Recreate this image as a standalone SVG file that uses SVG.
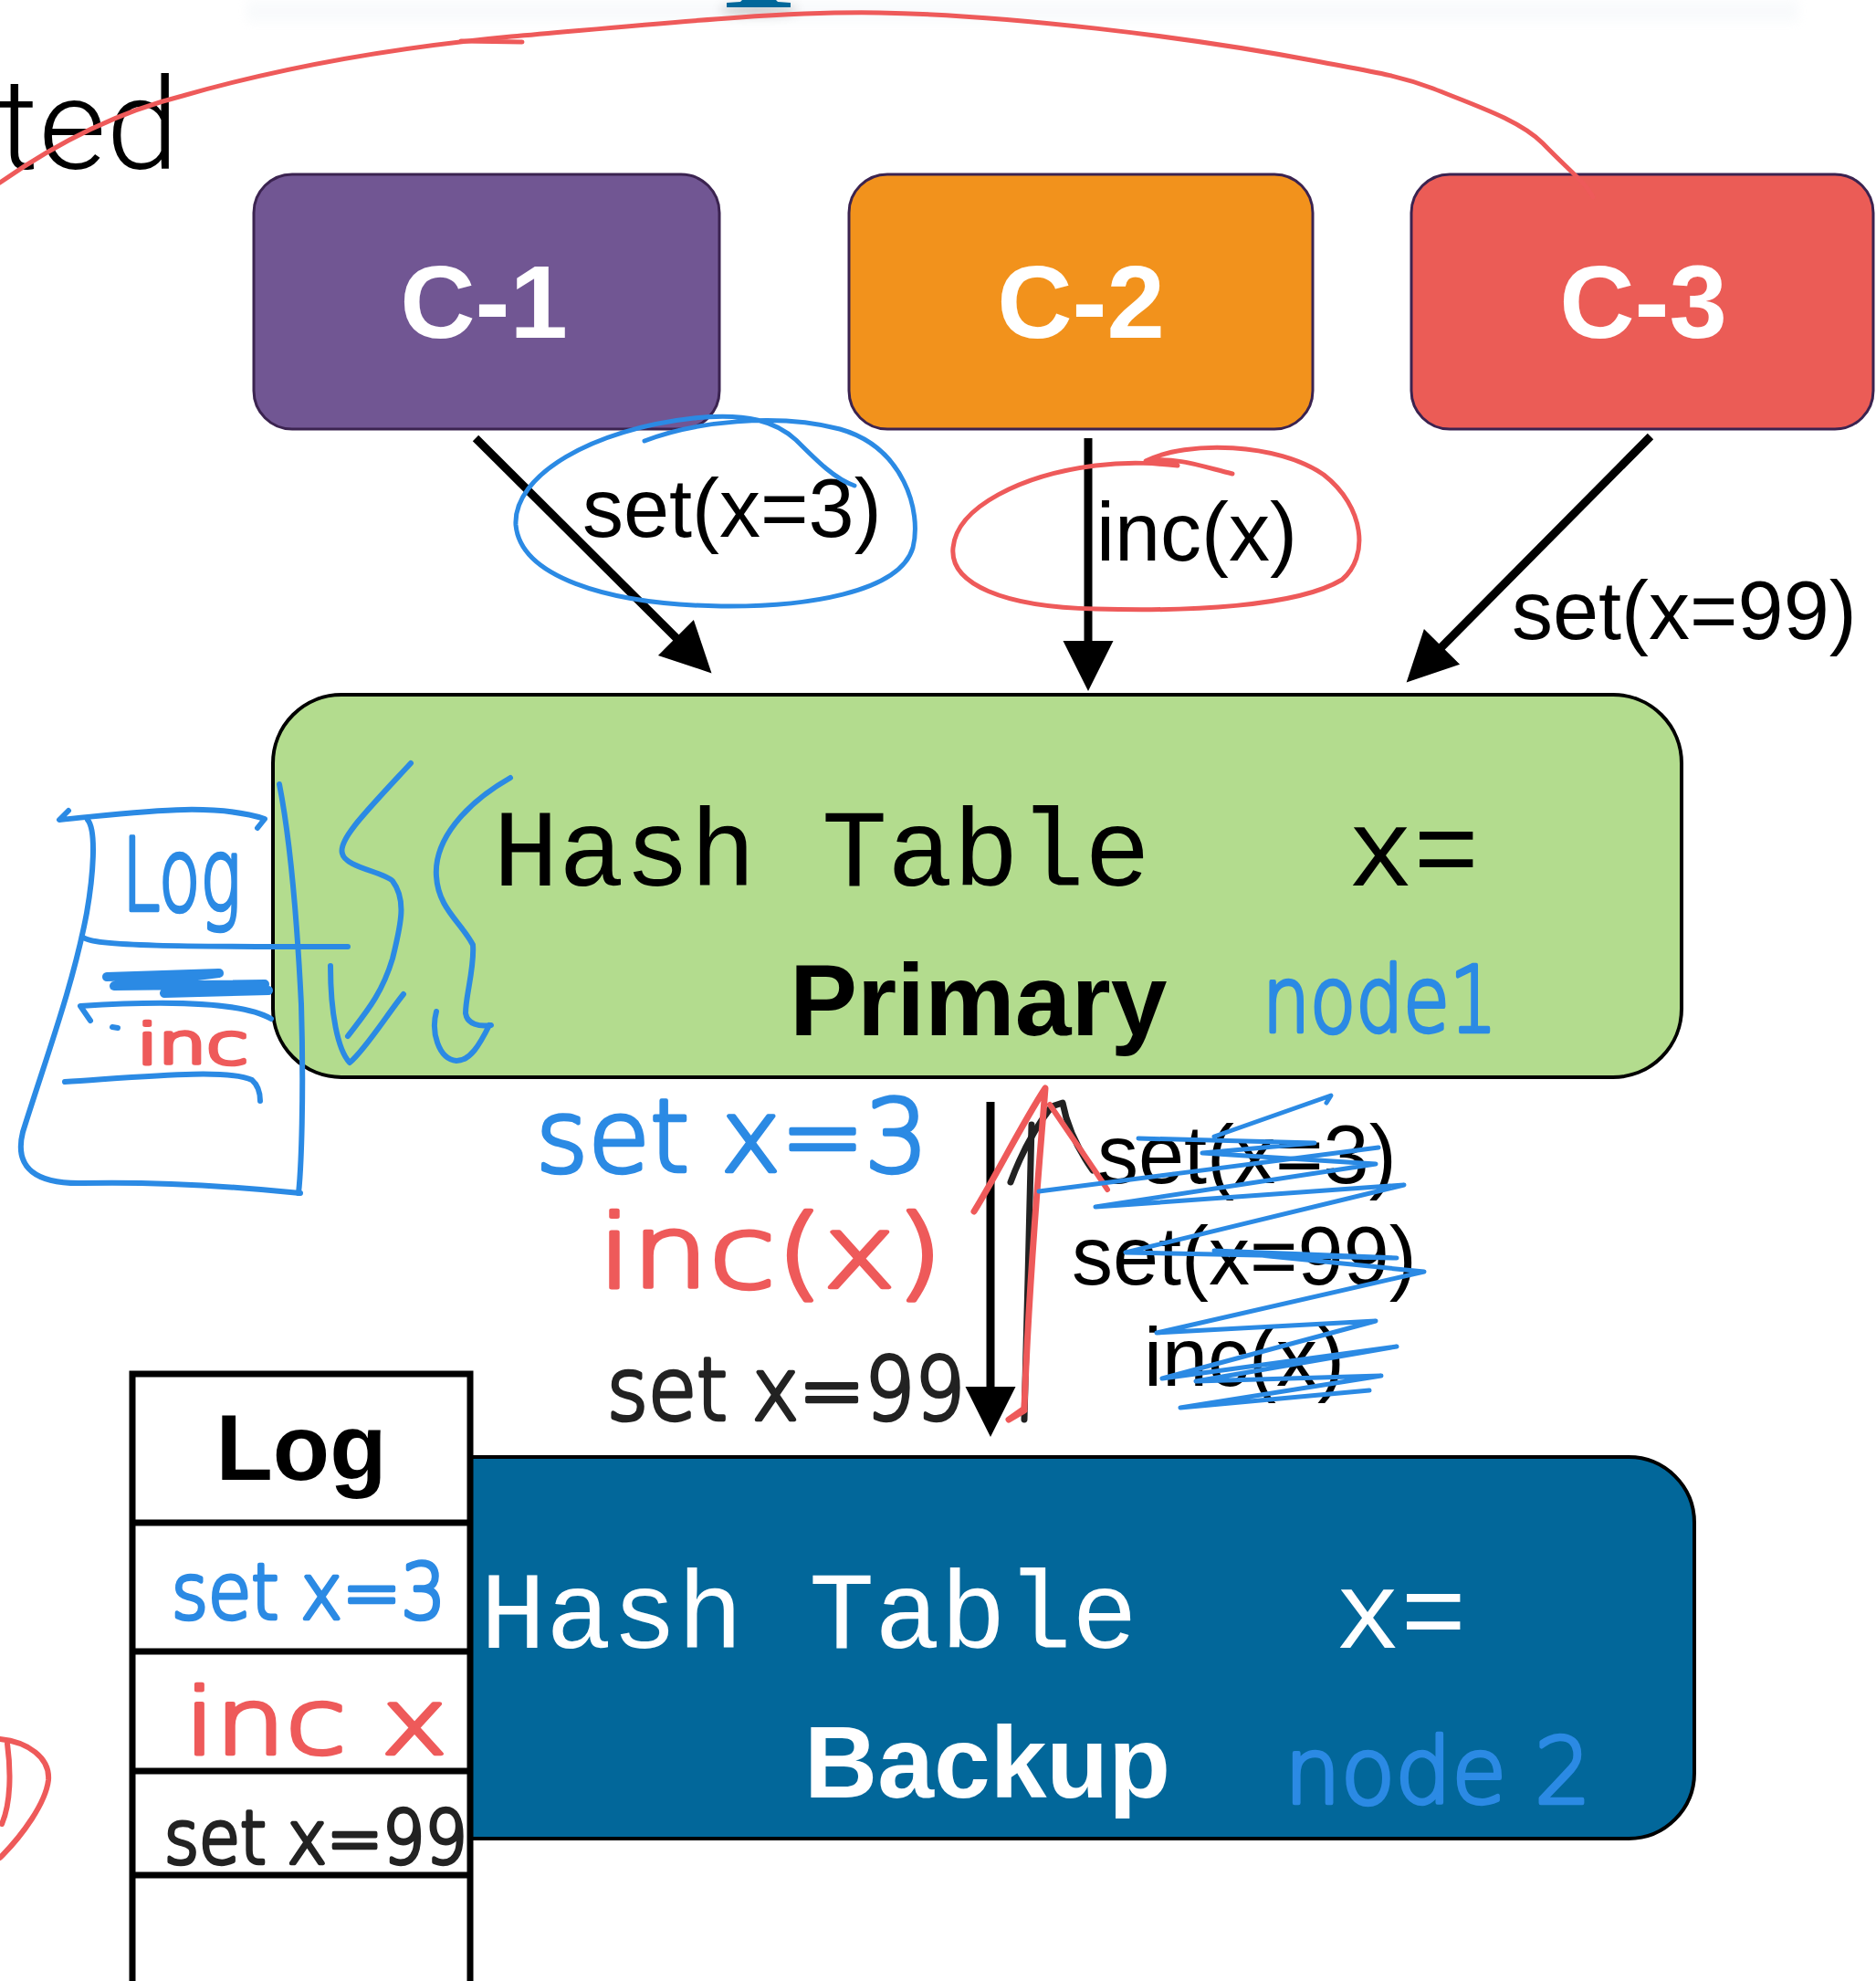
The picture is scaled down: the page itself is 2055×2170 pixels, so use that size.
<svg xmlns="http://www.w3.org/2000/svg" width="2055" height="2170" viewBox="0 0 2055 2170">
  <defs>
    <style>
      .client { stroke: #3b2350; stroke-width: 3; }
      .client-label { font-family: "Liberation Sans", Arial, sans-serif; font-weight: bold; font-size: 114px; fill: #ffffff; text-anchor: middle; }
      .op { font-family: "Liberation Sans", Arial, sans-serif; font-size: 90px; fill: #000000; }
      .mono { font-family: "Liberation Mono", "Courier New", monospace; font-size: 120px; }
      .role { font-family: "Liberation Sans", Arial, sans-serif; font-weight: bold; font-size: 111px; }
      .arrow { stroke: #000000; stroke-width: 9; fill: none; }
      .ink { fill: none; stroke-linecap: round; stroke-linejoin: round; }
      .blue { stroke: #2b8ae4; }
      .red { stroke: #ee5a5a; }
      .dark { stroke: #222222; }
      .hand { font-family: "DejaVu Sans", "Noto Sans", sans-serif; font-weight: 200; stroke-width: 4.5; stroke-linejoin: round; }
      .hb { fill: #2b8ae4; stroke: #2b8ae4; }
      .hr { fill: #ee5a5a; stroke: #ee5a5a; }
      .hk { fill: #222222; stroke: #222222; }
    </style>
    <marker id="head" markerUnits="userSpaceOnUse" markerWidth="60" markerHeight="60" viewBox="0 -25 50 50" refX="16" refY="0" orient="auto">
      <path d="M0,-23 L46,0 L0,23 Z" fill="#000000"/>
    </marker>
    <filter id="soft" x="-20%" y="-200%" width="140%" height="500%">
      <feGaussianBlur stdDeviation="6"/>
    </filter>
  </defs>

  <rect width="2055" height="2170" fill="#ffffff"/>

  <!-- faded remains of the slide title -->
  <g id="title-remnant">
    <rect x="270" y="0" width="1700" height="24" fill="#e6edf3" opacity="0.25" filter="url(#soft)"/>
    <ellipse cx="831" cy="11" rx="42" ry="5" fill="#777777" opacity="0.45" filter="url(#soft)"/>
    <path d="M813,0 L850,0 L852,2 L866,3 L866,8 L796,8 L796,3 L811,2 Z" fill="#02679a"/>
  </g>

  <text x="-4" y="185" font-family="Roboto, 'Liberation Sans', sans-serif" font-weight="300" font-size="140" fill="#000000" textLength="200" lengthAdjust="spacingAndGlyphs">ted</text>

  <!-- client nodes -->
  <g id="c1">
    <rect class="client" x="278" y="191" width="510" height="279" rx="42" fill="#715693"/>
    <text class="client-label" x="530" y="370">C-1</text>
  </g>
  <g id="c2">
    <rect class="client" x="930" y="191" width="508" height="279" rx="42" fill="#f2921c"/>
    <text class="client-label" x="1184" y="370">C-2</text>
  </g>
  <g id="c3">
    <rect class="client" x="1546" y="191" width="506" height="279" rx="42" fill="#eb5c56"/>
    <text class="client-label" x="1800" y="370">C-3</text>
  </g>

  <!-- primary hash table -->
  <g id="primary">
    <rect x="299" y="761" width="1543" height="419" rx="75" fill="#b3dc8e" stroke="#000000" stroke-width="4"/>
    <text class="mono" x="540" y="970" fill="#000000" xml:space="preserve">Hash Table   x=</text>
    <text class="role" x="865" y="1134" fill="#000000">Primary</text>
  </g>

  <!-- backup hash table -->
  <g id="backup">
    <rect x="300" y="1596" width="1556" height="418" rx="72" fill="#02679a" stroke="#000000" stroke-width="4"/>
    <text class="mono" x="526" y="1805" fill="#ffffff" xml:space="preserve">Hash Table   x=</text>
    <text class="role" x="881" y="1969" fill="#ffffff">Backup</text>
  </g>

  <!-- log table -->
  <g id="log">
    <rect x="145" y="1505" width="370" height="700" fill="#ffffff" stroke="#000000" stroke-width="7"/>
    <line x1="145" y1="1668" x2="515" y2="1668" stroke="#000000" stroke-width="7"/>
    <line x1="145" y1="1809" x2="515" y2="1809" stroke="#000000" stroke-width="7"/>
    <line x1="145" y1="1940" x2="515" y2="1940" stroke="#000000" stroke-width="7"/>
    <line x1="145" y1="2054" x2="515" y2="2054" stroke="#000000" stroke-width="7"/>
    <text x="330" y="1621" font-family="'Liberation Sans', Arial, sans-serif" font-weight="bold" font-size="102" text-anchor="middle" fill="#000000">Log</text>
  </g>

  <!-- connectors -->
  <g id="connectors">
    <line class="arrow" x1="521" y1="480" x2="754" y2="712" marker-end="url(#head)"/>
    <line class="arrow" x1="1192" y1="480" x2="1192" y2="721" marker-end="url(#head)"/>
    <line class="arrow" x1="1808" y1="478" x2="1566" y2="722" marker-end="url(#head)"/>
    <line class="arrow" x1="1085" y1="1207" x2="1085" y2="1538" marker-end="url(#head)"/>
    <!-- return arrow drawn by hand -->
    <path class="ink dark" stroke-width="7" d="M1122,1555 L1126,1400 L1130,1232"/>
    <path class="ink dark" stroke-width="7" d="M1107,1295 C1120,1260 1138,1230 1152,1212 L1164,1208 C1170,1240 1185,1265 1197,1282"/>
  </g>

  <!-- operation labels -->
  <g id="labels">
    <text class="op" x="638" y="588">set(x=3)</text>
    <text class="op" x="1201" y="614">inc(x)</text>
    <text class="op" x="1656" y="700">set(x=99)</text>
    <text class="op" x="1202" y="1296">set(x=3)</text>
    <text class="op" x="1174" y="1407">set(x=99)</text>
    <text class="op" x="1253" y="1518">inc(x)</text>
  </g>

  <!-- pen annotations -->
  <g id="ink">
    <!-- long red stroke over the top -->
    <path class="ink red" stroke-width="5" d="M0,200 C50,165 120,125 200,105 C280,82 400,55 560,40 C700,28 850,12 963,14 C1100,16 1300,40 1442,67 C1500,78 1530,82 1570,97 C1620,117 1665,132 1690,157 C1720,188 1737,200 1745,216"/>
    <path class="ink red" stroke-width="5" d="M505,45 L572,46"/>

    <!-- ring round set(x=3) -->
    <path class="ink blue" stroke-width="5" d="M706,483 C760,462 850,452 920,470 C990,490 1010,560 1000,600 C985,650 880,665 790,664 C660,662 570,630 565,575 C562,520 650,470 760,458 C820,452 850,462 872,482 C895,505 915,525 936,532"/>
    <!-- ring round inc(x) -->
    <path class="ink red" stroke-width="5" d="M1350,519 C1320,512 1290,500 1255,505 C1300,482 1400,485 1450,520 C1495,555 1500,610 1470,635 C1420,665 1300,670 1200,667 C1100,665 1040,640 1044,600 C1048,555 1120,520 1200,510 C1240,505 1270,508 1290,510"/>

    <!-- sketched log beside the primary -->
    <path class="ink blue" stroke-width="6" d="M75,888 L65,898 C150,890 230,878 290,897 L282,907"/>
    <path class="ink blue" stroke-width="6" d="M96,898 C106,910 102,960 95,1000 C80,1080 50,1160 25,1240 C15,1280 40,1297 90,1296 C180,1294 260,1300 329,1307"/>
    <path class="ink blue" stroke-width="6" d="M306,859 C318,920 325,1000 330,1100 C333,1200 330,1280 327,1307"/>
    <path class="ink blue" stroke-width="6" d="M90,1026 C100,1037 200,1037 381,1037"/>
    <path class="ink blue" stroke-width="10" d="M117,1070 L240,1066 L125,1080 L290,1078 L180,1088 L294,1085"/>
    <path class="ink blue" stroke-width="6" d="M99,1118 L88,1102 C150,1098 260,1094 297,1116"/>
    <path class="ink blue" stroke-width="6" d="M123,1125 L129,1126"/>
    <path class="ink blue" stroke-width="6" d="M71,1185 C150,1180 250,1170 276,1183 C284,1190 285,1200 285,1206"/>
    <text class="hand hb" x="134" y="997" font-size="110" textLength="130" lengthAdjust="spacingAndGlyphs">Log</text>
    <text class="hand hr" x="150" y="1165" font-size="60" textLength="122" lengthAdjust="spacingAndGlyphs">inc</text>

    <!-- replay arrows inside the primary -->
    <path class="ink blue" stroke-width="6" d="M450,836 C400,890 370,920 375,935 C378,950 420,955 430,965 C445,985 440,1010 430,1050 C418,1090 400,1110 381,1135"/>
    <path class="ink blue" stroke-width="6" d="M362,1058 C362,1110 370,1150 383,1164 C400,1150 425,1110 442,1089"/>
    <path class="ink blue" stroke-width="6" d="M559,852 C510,880 475,920 478,960 C480,995 505,1010 518,1035 C520,1060 510,1090 510,1110 C512,1122 525,1125 538,1123"/>
    <path class="ink blue" stroke-width="6" d="M478,1108 C472,1130 480,1160 500,1162 C515,1162 525,1145 536,1123"/>

    <text class="hand hb" x="1383" y="1130" font-size="100" textLength="257" lengthAdjust="spacingAndGlyphs">node1</text>
    <text class="hand hb" x="1407" y="1975" font-size="100" textLength="336" lengthAdjust="spacingAndGlyphs">node 2</text>

    <!-- operations shipped to the backup -->
    <text class="hand hb" x="587" y="1283" font-size="110" textLength="430" lengthAdjust="spacingAndGlyphs">set x=3</text>
    <text class="hand hr" x="655" y="1410" font-size="110" textLength="378" lengthAdjust="spacingAndGlyphs">inc(x)</text>
    <text class="hand hk" x="665" y="1555" font-size="95" textLength="392" lengthAdjust="spacingAndGlyphs">set x=99</text>

    <!-- red overdraw of the return arrow -->
    <path class="ink red" stroke-width="7" d="M1067,1327 C1090,1290 1120,1230 1145,1192 C1140,1260 1128,1380 1122,1543 L1105,1555 L1122,1545"/>
    <path class="ink red" stroke-width="6" d="M1150,1210 C1170,1240 1195,1275 1213,1303"/>

    <!-- crossing out the returned operations -->
    <path class="ink blue" stroke-width="5" d="M1138,1305 C1250,1290 1400,1272 1510,1257"/>
    <path class="ink blue" stroke-width="5" d="M1330,1245 L1458,1200 L1453,1208"/>
    <path class="ink blue" stroke-width="5" d="M1247,1247 L1440,1252 L1317,1263 L1507,1275 L1200,1322 L1538,1298 L1233,1372 L1530,1378 L1330,1370 L1560,1393 L1267,1460 L1507,1447 L1273,1510 L1530,1475 L1310,1513 L1513,1507 L1293,1542 L1500,1523"/>

    <!-- log rows -->
    <text class="hand hb" x="188" y="1773" font-size="84" textLength="300" lengthAdjust="spacingAndGlyphs">set x=3</text>
    <text class="hand hr" x="202" y="1921" font-size="100" textLength="288" lengthAdjust="spacingAndGlyphs">inc x</text>
    <text class="hand hk" x="180" y="2041" font-size="80" textLength="332" lengthAdjust="spacingAndGlyphs">set x=99</text>

    <!-- red mark at the left edge -->
    <path class="ink red" stroke-width="6" d="M0,1905 C30,1908 55,1925 53,1950 C50,1975 25,2010 0,2035"/>
    <path class="ink red" stroke-width="6" d="M8,1910 C12,1940 12,1975 2,1998"/>
  </g>
</svg>
